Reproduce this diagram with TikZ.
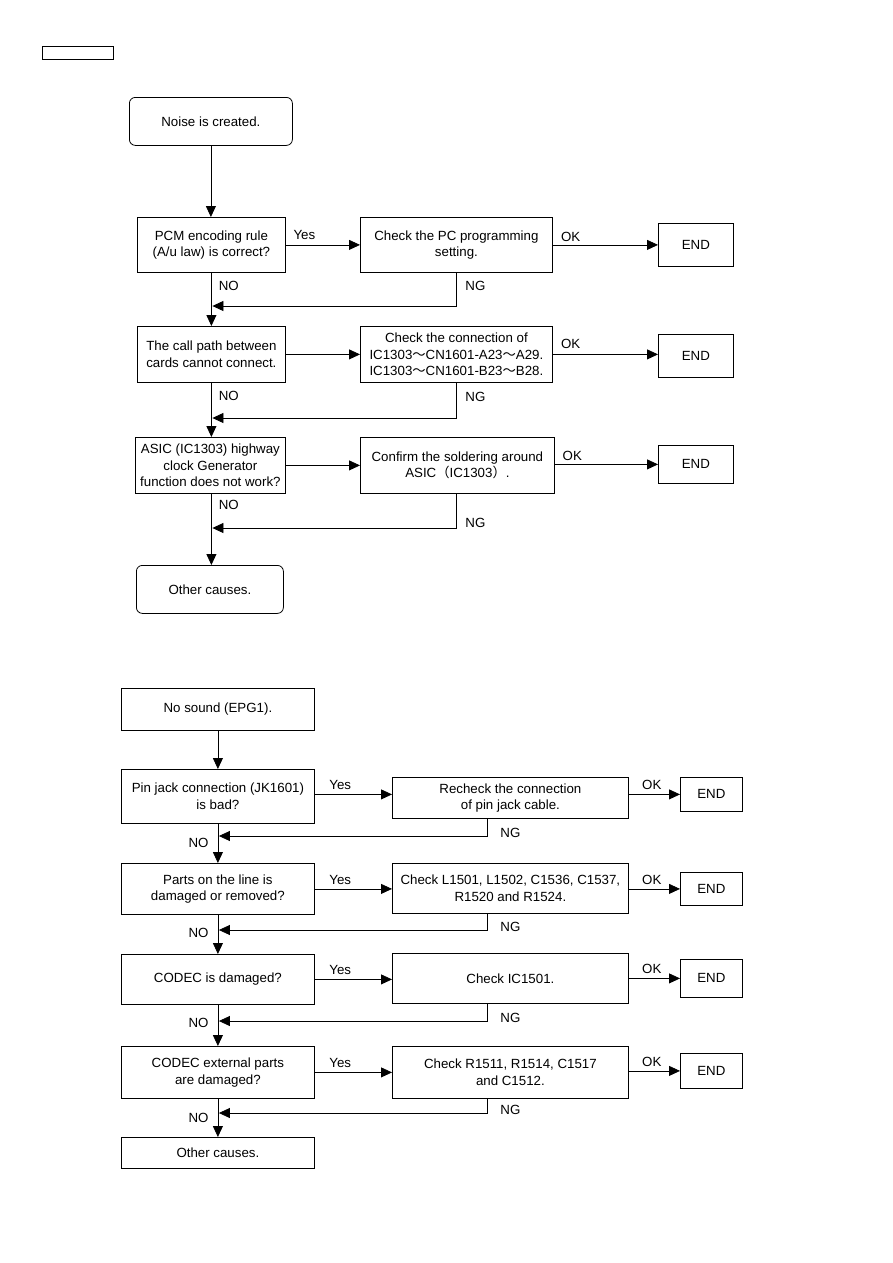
\documentclass[tikz,border=0pt]{standalone}
\usepackage{fontspec}
\setmainfont{Liberation Sans}
\newfontfamily\cjk{Noto Sans CJK SC}
\usetikzlibrary{arrows.meta,positioning}
\newcommand{\wav}{{\cjk ～}}

\tikzset{
  box/.style={draw, line width=0.8pt, anchor=north west, align=center, inner sep=2pt,
    font=\fontsize{13.3}{16.5}\selectfont},
  rbox/.style={box, rounded corners=6pt},
  arr/.style={line width=0.8pt, -{Triangle[length=11pt,width=10pt]}},
  lbl/.style={font=\fontsize{13.3}{15}\selectfont, inner sep=1pt}
}

\begin{document}
\begin{tikzpicture}[x=1pt,y=-1pt]
  \useasboundingbox (0,0) rectangle (893,1263);
  % header tab
  \node[draw, line width=0.8pt, anchor=north west, minimum width=71pt, minimum height=13pt] (tab) at (42,46) {};

  % ---- Noise chart ----
  \node[rbox, minimum width=163pt, minimum height=48pt] (noise) at (129,97) {Noise is created.};
  \node[box, minimum width=148pt, minimum height=55pt] (pcm) at (137,217) {PCM encoding rule\\(A/u law) is correct?};
  \node[box, minimum width=192pt, minimum height=55pt] (chkpc) at (360,217) {Check the PC programming\\setting.};
  \node[box, minimum width=75pt, minimum height=43pt] (endA) at (658,223) {END};
  \node[box, minimum width=148pt, minimum height=56pt] (call) at (137,326) {The call path between\\cards cannot connect.};
  \node[box, minimum width=192pt, minimum height=56pt] (chkcn) at (360,326)
    {Check the connection of\\IC1303\wav CN1601-A23\wav A29.\\IC1303\wav CN1601-B23\wav B28.};
  \node[box, minimum width=75pt, minimum height=43pt] (endB) at (658,334) {END};
  \node[box, minimum width=150pt, minimum height=56pt] (asic) at (135,437)
    {ASIC (IC1303) highway\\clock Generator\\function does not work?};
  \node[box, minimum width=194pt, minimum height=56pt] (solder) at (360,437)
    {Confirm the soldering around\\ASIC{\cjk （}IC1303{\cjk ）}.};
  \node[box, minimum width=75pt, minimum height=38pt] (endC) at (658,445) {END};
  \node[rbox, minimum width=147pt, minimum height=48pt] (otherA) at (136,565) {Other causes.};

  \draw[arr] (noise) -- (noise |- pcm.north);
  \draw[arr] (pcm) -- (chkpc) node[lbl, pos=0.25, above=4pt] (yesA) {Yes};
  \draw[arr] (chkpc) -- (endA) node[lbl, pos=0.17, above=2pt] (okA) {OK};
  \draw[arr] (pcm) -- (call) node[lbl, pos=0.25, right=6pt] (noA) {NO};
  \coordinate (ngA) at (456,306);
  \draw[arr] (chkpc.south -| ngA) -- node[lbl, pos=0.4, right=8pt] (ngAl) {NG} (ngA) -- ([xshift=1pt]ngA -| pcm.south);
  \draw[arr] (call) -- (chkcn);
  \draw[arr] (chkcn) -- (chkcn -| endB.west) node[lbl, pos=0.17, above=4pt] (okB) {OK};
  \draw[arr] (call) -- (call |- asic.north) node[lbl, pos=0.25, right=6pt] (noB) {NO};
  \coordinate (ngB) at (456,418);
  \draw[arr] (chkcn.south -| ngB) -- node[lbl, pos=0.4, right=8pt] (ngBl) {NG} (ngB) -- ([xshift=1pt]ngB -| call.south);
  \draw[arr] (asic) -- (asic -| solder.west);
  \draw[arr] (solder.east |- endC) -- (endC) node[lbl, pos=0.17, above=2pt] (okC) {OK};
  \draw[arr] (call.south |- asic.south) -- (call.south |- otherA.north) node[lbl, pos=0.15, right=6pt] (noC) {NO};
  \coordinate (ngC) at (456,528);
  \draw[arr] (solder.south -| ngC) -- node[lbl, pos=0.85, right=8pt] (ngCl) {NG} (ngC) -- ([xshift=1pt]ngC -| call.south);

  % ---- No sound chart ----
  \node[box, minimum width=193pt, minimum height=42pt] (nosnd) at (121,688) {No sound (EPG1).};
  \node[box, minimum width=193pt, minimum height=54pt] (pin) at (121,769) {Pin jack connection (JK1601)\\is bad?};
  \node[box, minimum width=236pt, minimum height=41pt] (rechk) at (392,777) {Recheck the connection\\of pin jack cable.};
  \node[box, minimum width=62pt, minimum height=34pt] (endD) at (680,777) {END};
  \node[box, minimum width=193pt, minimum height=51pt] (parts) at (121,863) {Parts on the line is\\damaged or removed?};
  \node[box, minimum width=236pt, minimum height=50pt] (chkL) at (392,863) {Check L1501, L1502, C1536, C1537,\\R1520 and R1524.};
  \node[box, minimum width=62pt, minimum height=33pt] (endE) at (680,872) {END};
  \node[box, minimum width=193pt, minimum height=50pt] (codec) at (121,954) {CODEC is damaged?};
  \node[box, minimum width=236pt, minimum height=50pt] (chkIC) at (392,953) {Check IC1501.};
  \node[box, minimum width=62pt, minimum height=38pt] (endF) at (680,959) {END};
  \node[box, minimum width=193pt, minimum height=52pt] (codx) at (121,1046) {CODEC external parts\\are damaged?};
  \node[box, minimum width=236pt, minimum height=52pt] (chkR) at (392,1046) {Check R1511, R1514, C1517\\and C1512.};
  \node[box, minimum width=62pt, minimum height=35pt] (endG) at (680,1053) {END};
  \node[box, minimum width=193pt, minimum height=31pt] (otherB) at (121,1137) {Other causes.};

  \draw[arr] (nosnd) -- (pin);
  \draw[arr] (pin.east) ++(0,-2) coordinate (yD) -- (yD -| rechk.west) node[lbl, pos=0.33, above=3pt] (yesD) {Yes};
  \draw[arr] (rechk.east |- endD) -- (endD) node[lbl, pos=0.45, above=3pt] (okD) {OK};
  \coordinate (ngD) at (487,836);
  \draw[arr] (rechk.south -| ngD) -- (ngD) -- ([xshift=1pt]ngD -| pin.south)
    node[lbl, pos=0, anchor=south west, xshift=12pt, yshift=-3pt] (ngDl) {NG};
  \draw[arr] (pin) -- (parts) node[lbl, pos=0.5, left=8pt] (noD) {NO};
  \draw[arr] (parts) -- (parts -| chkL.west) node[lbl, pos=0.33, above=3pt] (yesE) {Yes};
  \draw[arr] (chkL.east |- endE) -- (endE) node[lbl, pos=0.45, above=3pt] (okE) {OK};
  \coordinate (ngE) at (487,930);
  \draw[arr] (chkL.south -| ngE) -- (ngE) -- ([xshift=1pt]ngE -| parts.south)
    node[lbl, pos=0, anchor=south west, xshift=12pt, yshift=-3pt] (ngEl) {NG};
  \draw[arr] (parts) -- (codec) node[lbl, pos=0.45, left=8pt] (noE) {NO};
  \draw[arr] (codec) -- (codec -| chkIC.west) node[lbl, pos=0.33, above=3pt] (yesF) {Yes};
  \draw[arr] (chkIC.east |- endF) -- (endF) node[lbl, pos=0.45, above=3pt] (okF) {OK};
  \coordinate (ngF) at (487,1021);
  \draw[arr] (chkIC.south -| ngF) -- (ngF) -- ([xshift=1pt]ngF -| codec.south)
    node[lbl, pos=0, anchor=south west, xshift=12pt, yshift=-3pt] (ngFl) {NG};
  \draw[arr] (codec) -- (codx) node[lbl, pos=0.45, left=8pt] (noF) {NO};
  \draw[arr] (codx) -- (codx -| chkR.west) node[lbl, pos=0.33, above=3pt] (yesG) {Yes};
  \draw[arr] (chkR.east |- endG) -- (endG) node[lbl, pos=0.45, above=3pt] (okG) {OK};
  \coordinate (ngG) at (487,1113);
  \draw[arr] (chkR.south -| ngG) -- (ngG) -- ([xshift=1pt]ngG -| codx.south)
    node[lbl, pos=0, anchor=south west, xshift=12pt, yshift=-3pt] (ngGl) {NG};
  \draw[arr] (codx) -- (otherB) node[lbl, pos=0.5, left=8pt] (noG) {NO};
\end{tikzpicture}
\end{document}
